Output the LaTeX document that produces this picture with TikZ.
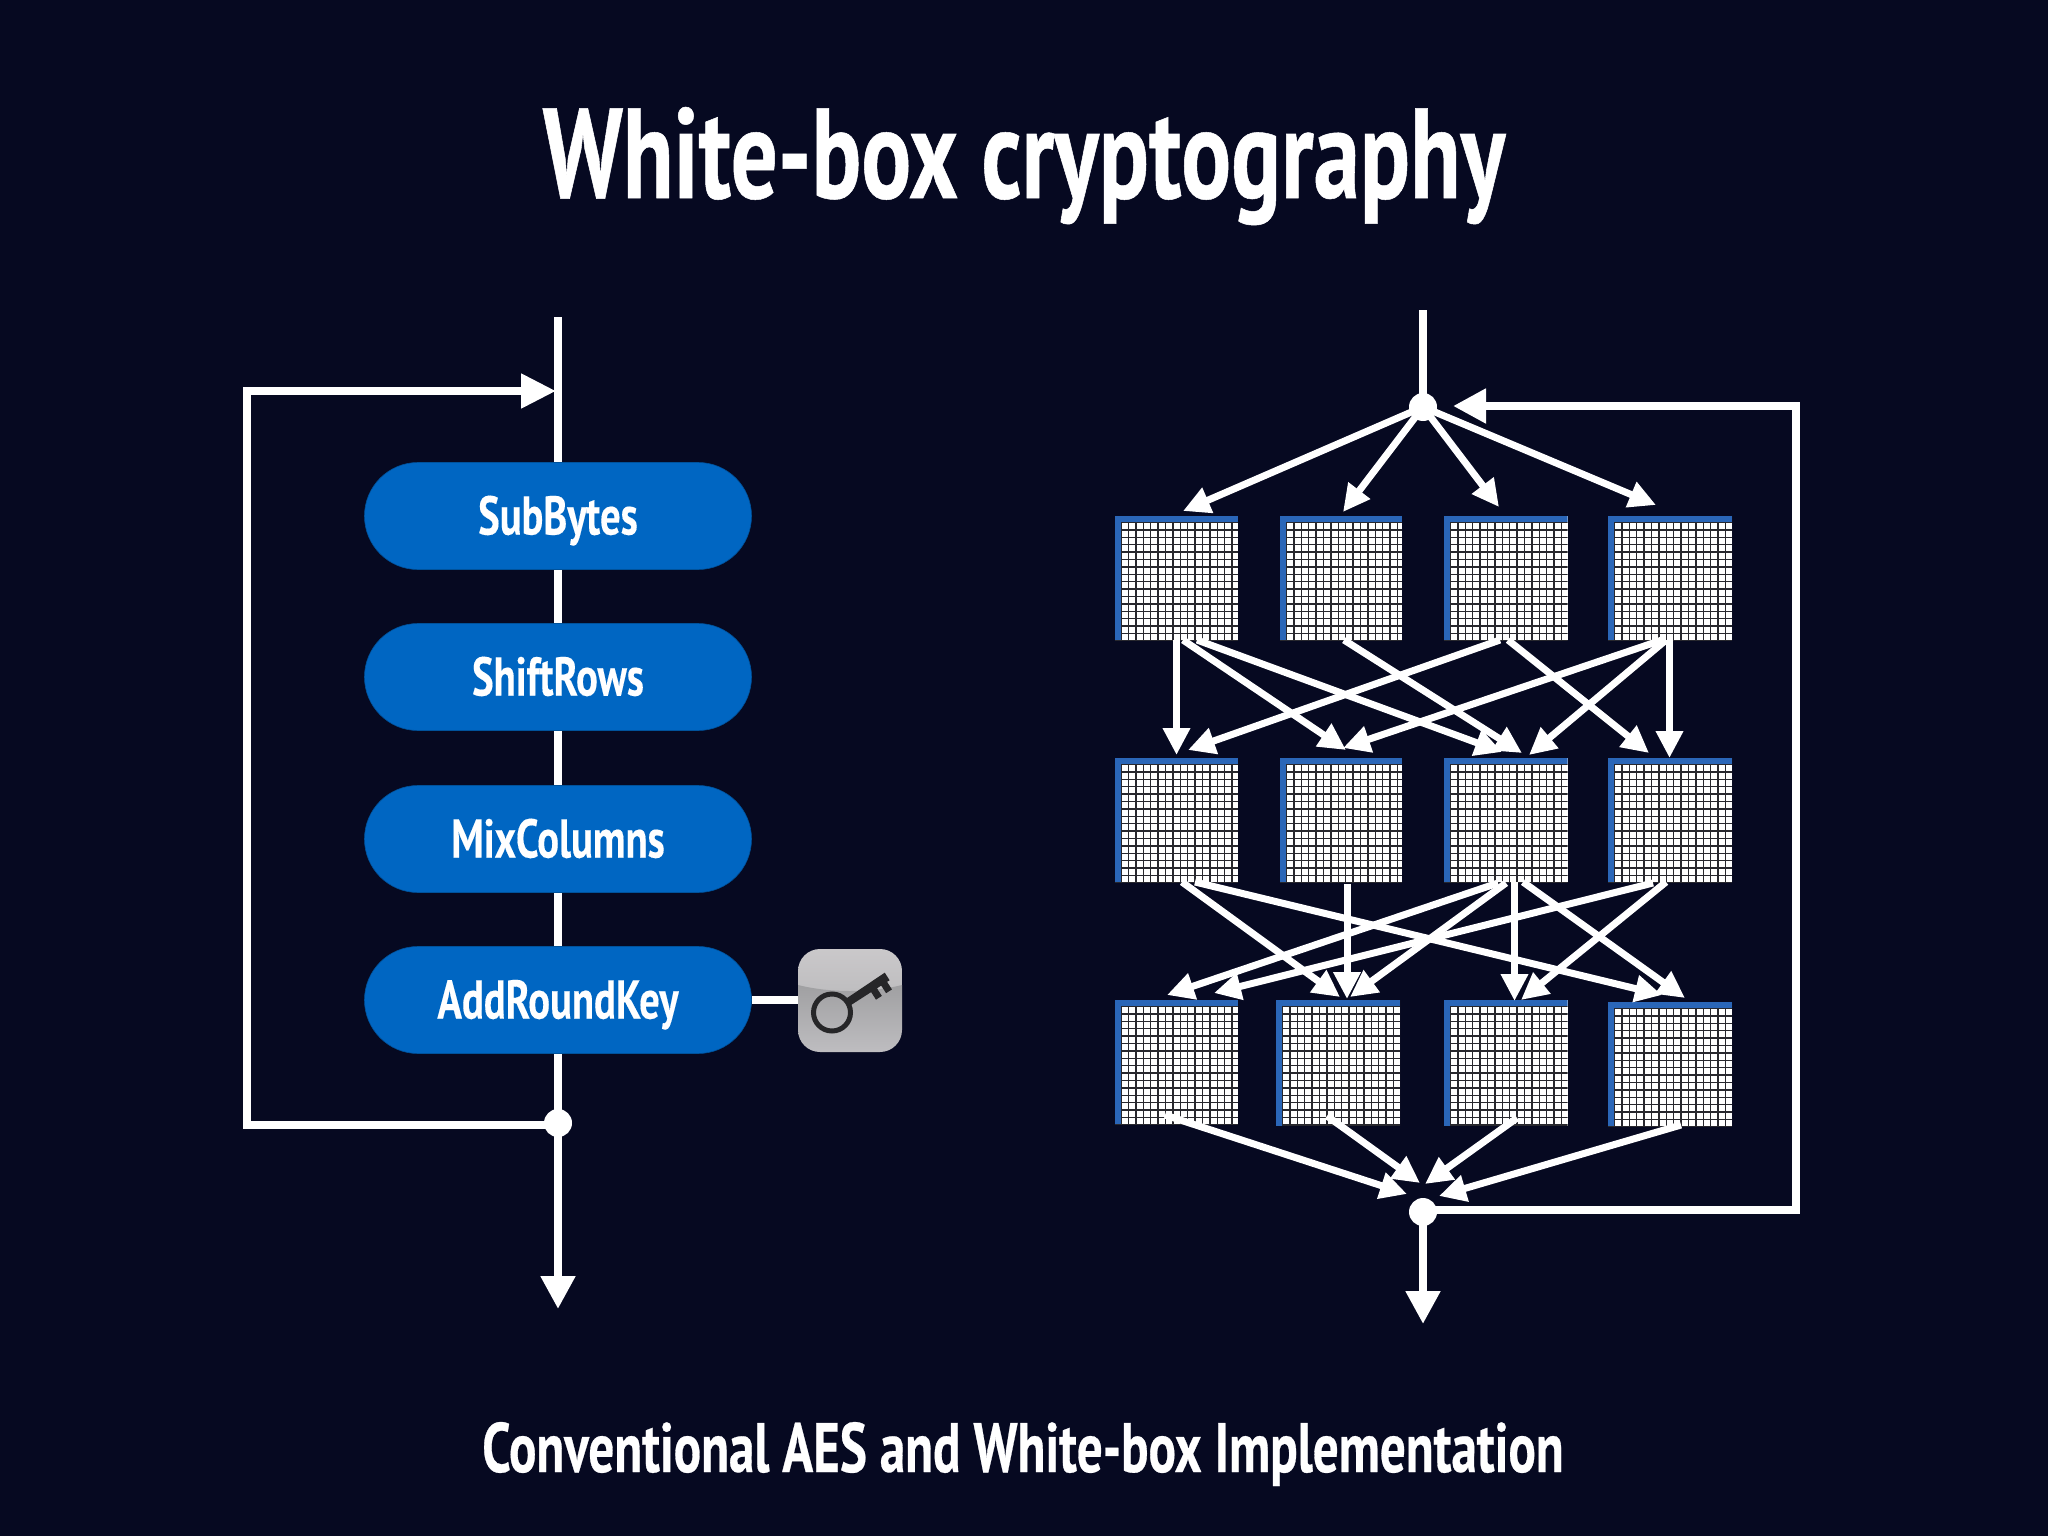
\documentclass[tikz,border=0pt]{standalone}
\usepackage{fontspec}
\usetikzlibrary{arrows.meta,calc,shapes.misc}
\newfontfamily\dinfont[FakeStretch=0.727,FakeBold=0.4]{PT Sans Bold}
\newfontfamily\dinsub[FakeStretch=0.73,FakeBold=0.4]{PT Sans Bold}
\newfontfamily\dinpill[FakeStretch=0.745,FakeBold=0.2]{PT Sans Bold}
\definecolor{bgc}{RGB}{6,9,33}
\definecolor{pillc}{RGB}{0,102,194}
\definecolor{edgec}{RGB}{42,102,184}
\definecolor{gridc}{RGB}{40,40,46}
\definecolor{keyc}{RGB}{38,38,40}
\definecolor{icontopa}{RGB}{202,200,202}
\definecolor{icontopb}{RGB}{190,189,191}
\definecolor{iconlowa}{RGB}{160,160,162}
\definecolor{iconlowb}{RGB}{190,189,192}
\newcommand{\wire}[7][sarrow]{\draw[#1] ([shift={(#3,#4)}]#2.south west) -- ([shift={(#6,#7)}]#5.north west);}
\tikzset{
  wline/.style={draw=white,line width=8pt},
  barrow/.style={wline,-{Triangle[length=33pt,width=33pt]}},
  sarrow/.style={draw=white,line width=7pt,-{Triangle[length=27pt,width=26pt]}},
  dotn/.style={circle,fill=white,inner sep=0pt,minimum size=28pt},
  pill/.style={rounded rectangle,fill=pillc,draw=pillc!80!black,line width=.6pt,minimum width=387pt,minimum height=107pt,inner sep=0pt,text=white,text height=37pt,text depth=0pt,font=\dinpill\fontsize{54.5}{56}\selectfont},
  cellbox/.style={anchor=north west,inner sep=0pt,outer sep=0pt,minimum height=#1,fill=white,
    path picture={
      \foreach \k in {0,...,16}{
        \draw[gridc,line width=1.4pt] ([xshift=6.5pt+\k*7.4pt]path picture bounding box.north west) -- ([xshift=6.5pt+\k*7.4pt]path picture bounding box.south west);
        \draw[gridc,line width=1.4pt] ([yshift=-6.5pt-\k*7.4pt]path picture bounding box.north west) -- ([yshift=-6.5pt-\k*7.4pt]path picture bounding box.north east);
      }
      \fill[edgec] (path picture bounding box.north west) rectangle ([xshift=6pt]path picture bounding box.south west);
      \fill[edgec] (path picture bounding box.north west) rectangle ([yshift=-6pt]path picture bounding box.north east);
    }},
}
\begin{document}
\begin{tikzpicture}[x=1pt,y=-1pt]
\useasboundingbox (0,0) rectangle (2048,1536);
\fill[bgc] (0,0) rectangle (2048,1536);

% titles
\node[text=white,font=\dinfont\fontsize{128}{130}\selectfont,anchor=base] (title) at (1024,198) {White-box cryptography};
\node[text=white,font=\dinsub\fontsize{70}{74}\selectfont,anchor=base] (subtitle) at (1023,1472) {Conventional AES and White-box Implementation};

% left diagram
\coordinate (ltop) at (558,317);
\coordinate (lend) at (558,1309);
\node[dotn] (ldot) at (558,1123) {};
\coordinate (lc1) at (247,1125);
\coordinate (lc2) at (247,391);
\coordinate (lin) at (556,391);
\draw[barrow] (ltop) -- (lend);
\draw[wline,-{Triangle[length=35pt,width=33pt]},line join=miter] (ldot.center |- lc1) -- (lc1) -- (lc2) -- (lin);
\node[pill] (sub) at (558,516) {SubBytes};
\node[pill] (shift) at (558,677) {ShiftRows};
\node[pill] (mix) at (558,839) {MixColumns};
\node[pill] (add) at (558,1000) {AddRoundKey};

% key icon
\node[inner sep=0pt,minimum width=104pt,minimum height=103pt] (icon) at (850,1000) {};
\draw[wline] (add.east) -- (icon.west);
\begin{scope}
  \clip[rounded corners=22pt] (798,949) rectangle (902,1052);
  \shade[top color=icontopa,bottom color=icontopb] (798,949) rectangle (902,993);
  \shade[top color=iconlowa,bottom color=iconlowb] (798,985) .. controls (830,993) and (870,993) .. (902,985) -- (902,1052) -- (798,1052) -- cycle;
\end{scope}
\draw[keyc,line width=5pt] (832,1012.5) circle (18.5);
\begin{scope}[shift={(832,1012.5)},x={(.84pt,.54pt)},y={(.54pt,-.84pt)}]
  \fill[keyc] (18,-4) -- (66,-5) -- (66,4) -- (63,4) -- (63,13) -- (56,13) -- (56,4) -- (51,4) -- (51,13) -- (44,13) -- (44,4) -- (18,4) -- cycle;
\end{scope}

% right diagram: cells
\foreach \nm/\x/\y/\w/\h in {r1a/1114.5/516/123.5/124,r1b/1280/516/122/124,r1c/1444/516/123.5/124,r1d/1608/516/124/124,
  r2a/1114.5/758/123.5/124,r2b/1280/758/122/124,r2c/1444/758/123.5/124,r2d/1608/758/124/124,
  r3a/1114.5/1000/123.5/124,r3b/1276/1000/124/126,r3c/1444/1000/123.5/126,r3d/1608/1002/124/124}{
  \node[cellbox=\h pt,minimum width=\w pt] (\nm) at (\x,\y) {};
}

% junctions
\coordinate (rtop) at (1423,310);
\node[dotn] (jt) at (1423,407) {};
\node[dotn] (jb) at (1423,1212) {};
\coordinate (rend) at (1423,1324);
\coordinate (rc1) at (1796,1210);
\coordinate (rc2) at (1796,406);
\coordinate (rin) at (1453,406);
\draw[wline] (rtop) -- (jt.center);
\draw[barrow] (jb.center) -- (rend);
\draw[barrow,line join=miter] (jb.center |- rc1) -- (rc1) -- (rc2) -- (rin);

% top fan
\draw[sarrow] (jt.center) -- ([shift={(68.5,-5)}]r1a.north west);
\draw[sarrow] (jt.center) -- ([shift={(63,-4)}]r1b.north west);
\draw[sarrow] (jt.center) -- ([shift={(55,-9)}]r1c.north west);
\draw[sarrow] (jt.center) -- ([shift={(48,-11)}]r1d.north west);

% row 1 to row 2
\wire{r1a}{62}{0}{r2a}{62}{-3}
\wire{r1a}{68.5}{0}{r2b}{66}{-8}
\wire{r1a}{82.5}{0}{r2c}{58}{-6}
\wire{r1b}{64}{0}{r2c}{78}{-5}
\wire{r1c}{56}{0}{r2a}{73.5}{-8}
\wire{r1c}{64}{0}{r2d}{41}{-5}
\wire{r1d}{54}{0}{r2b}{63}{-10}
\wire{r1d}{58}{0}{r2c}{85}{-3}
\wire{r1d}{61.5}{0}{r2d}{61.5}{0}

% row 2 to row 3
\wire{r2a}{67.5}{0}{r3b}{64}{-3}
\wire{r2a}{80.5}{0}{r3d}{54}{-7}
\wire{r2b}{67}{2}{r3b}{71}{-1}
\wire{r2c}{54}{1}{r3a}{52.5}{-5}
\wire{r2c}{62}{1}{r3b}{74}{-3}
\wire{r2c}{70.5}{0}{r3c}{70.5}{1}
\wire{r2c}{79}{0}{r3d}{77}{-4}
\wire{r2d}{45}{1}{r3a}{99.5}{-7}
\wire{r2d}{58}{0}{r3c}{77}{0}

% row 3 to bottom junction
\draw[sarrow] ([shift={(50.5,-9)}]r3a.south west) -- ([shift={(-16,-18)}]jb.center);
\draw[sarrow] ([shift={(51,-10)}]r3b.south west) -- ([shift={(-3,-29)}]jb.center);
\draw[sarrow] ([shift={(73,-8)}]r3c.south west) -- ([shift={(2,-28)}]jb.center);
\draw[sarrow] ([shift={(73,-1)}]r3d.south west) -- ([shift={(16,-16)}]jb.center);
\end{tikzpicture}
\end{document}
